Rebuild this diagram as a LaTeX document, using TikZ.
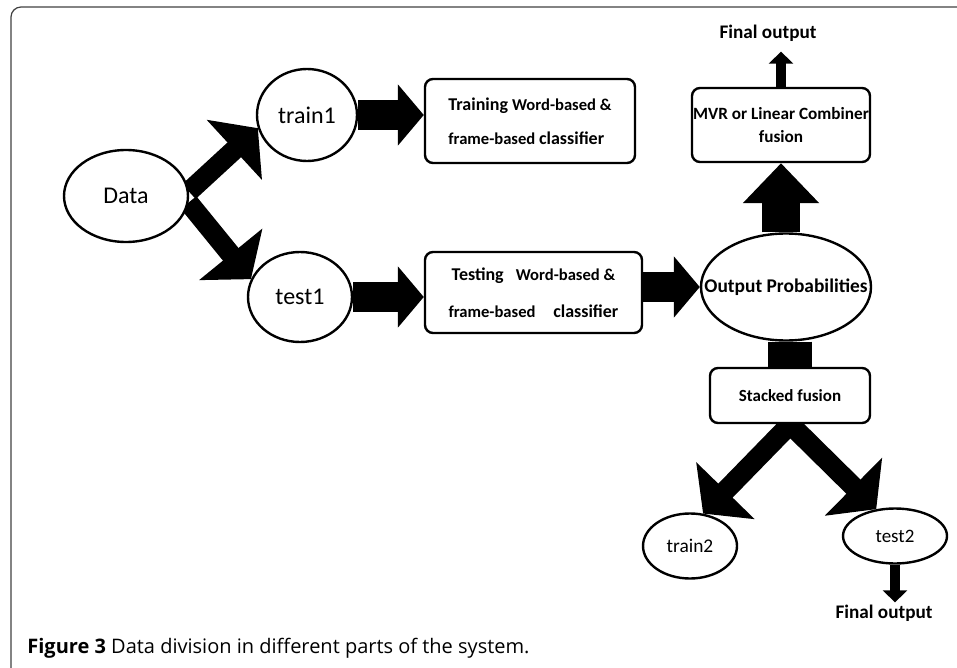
\documentclass[tikz,border=0pt]{standalone}
\usepackage{fontspec}
\setmainfont{Carlito}
\newfontfamily\capfont{Open Sans}
\usetikzlibrary{shapes.geometric,arrows.meta,backgrounds,calc}
\newcommand\fsize[1]{\fontsize{#1pt}{#1pt}\selectfont}
\tikzset{
  blob/.style={ellipse,draw,line width=1.2pt,fill=white,inner sep=0pt},
  card/.style={rectangle,rounded corners=4pt,draw,line width=1.2pt,fill=white,inner sep=0pt},
  splitarrow/.style={line width=10pt,-{Triangle[length=16pt,width=40pt]}},
  sidearrow/.style={line width=15pt,-{Triangle[length=13pt,width=30pt]}},
  uparrow/.style={line width=19pt,-{Triangle[length=20pt,width=37pt]}},
  outarrow/.style={line width=5pt,-{Triangle[length=6pt,width=12pt]}},
}
\begin{document}
\begin{tikzpicture}[x=0.5pt,y=-0.5pt]
	\useasboundingbox (0,0) rectangle (957,668);
	% frame of the figure
	\draw[black!75,line width=0.6pt,rounded corners=5pt] (957,7) -- (11,7) -- (11,668);

	% nodes
	\node[blob,minimum width=62pt,minimum height=46pt] (data) at (126,196) {\fsize{12}Data};
	\node[blob,minimum width=50pt,minimum height=46pt] (train1) at (307,115) {\fsize{12}train1};
	\node[blob,minimum width=52pt,minimum height=45pt] (test1) at (300,297) {\fsize{12}test1};
	\node[card,minimum width=105pt,minimum height=42pt,align=left,font=\bfseries] (training) at (530,121)
		{\fsize{9}Training \fsize{8.3}Word-based \&\\[5pt]\fsize{8.3}frame-based \fsize{9}classifier};
	\node[card,minimum width=108.5pt,minimum height=40.5pt,align=left,font=\bfseries] (testing) at (533.5,292.5)
		{\hspace{1.5pt}\fsize{9}Testing\hspace{4pt} \fsize{8.3}Word-based \&\\[6.5pt]\fsize{8.3}frame-based\hspace{7pt} \fsize{9}classifier};
	\node[blob,minimum width=85pt,minimum height=53.5pt,inner xsep=-12pt] (outprob) at (786,287)
		{\bfseries\fsize{9.7}Output Probabilities};
	\node[card,minimum width=89pt,minimum height=37pt,align=center,font=\bfseries\fsize{8.6}] (mvr) at (781,125)
		{MVR or Linear Combiner\\[3pt]fusion};
	\node[card,minimum width=80pt,minimum height=27.5pt] (stacked) at (790,395.5) {\bfseries\fsize{8.5}Stacked fusion};
	\node[blob,minimum width=47pt,minimum height=32.5pt] (train2) at (690,546) {\fsize{9.7}train2};
	\node[blob,minimum width=52pt,minimum height=27.5pt] (test2) at (895,536) {\fsize{9.5}test2};
	\node[inner sep=1pt] (finaltop) at (768,33) {\bfseries\fsize{9.6}Final output};
	\node[inner sep=1pt] (finalbot) at (884,613) {\bfseries\fsize{9.6}Final output};
	\node[anchor=west,inner sep=0pt] (caption) at (27,648)
		{\capfont\fsize{10}\textbf{Figure 3} Data division in different parts of the system.};

	\coordinate (forkL) at ($(stacked.south)+(10,-10)$);
	\coordinate (forkR) at ($(stacked.south)+(-10,-10)$);

	% block arrows behind the nodes
	\begin{scope}[on background layer]
		\draw[splitarrow] (data.4) -- (train1.195);
		\draw[splitarrow] (data.354) -- (test1.160);
		\draw[sidearrow] (train1.east) -- (train1.east -| training.west);
		\draw[sidearrow] (test1.east) -- (test1.east -| testing.west);
		\draw[sidearrow] (testing.east |- outprob.west) -- (outprob.west);
		\draw[uparrow] (outprob.north -| mvr.south) -- (mvr.south);
		\draw[outarrow] (mvr.north) -- ([yshift=-4pt]mvr.north |- finaltop.south);
		\draw[line width=22pt] (outprob.south -| stacked.north) -- (stacked.north);
		\draw[splitarrow] (forkL) -- (train2.68);
		\draw[splitarrow] (forkR) -- (test2.125);
		\draw[outarrow] (test2.south) -- (test2.south |- finalbot.north);
	\end{scope}
\end{tikzpicture}
\end{document}
